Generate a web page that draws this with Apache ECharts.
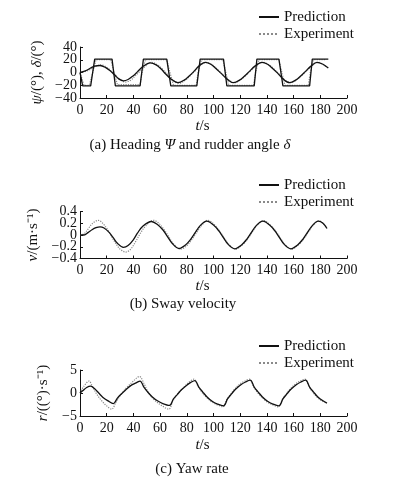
<!DOCTYPE html>
<html>
<head>
<meta charset="utf-8">
<script src="https://cdn.jsdelivr.net/npm/echarts@6/dist/echarts.min.js"></script>
<style>
  html, body { margin: 0; padding: 0; background: #fff; }
  #chart { width: 398px; height: 483px; }
</style>
</head>
<body>
<div id="chart"></div>
<script>
// [t (s), value] pairs
const headingPred = [[0,0],[4,2.5],[8,7],[11,10],[15,11],[19,8],[23,2],[26,-4],[29,-10],[32.5,-13],[36,-11],[40,-5],[43,1],[47,9],[52.5,15],[57,12],[61,5],[64,-2],[68,-10],[73.3,-16],[78,-12],[82,-5],[85,1],[89,10],[93.8,16],[98,13],[102,6],[105.5,-1],[110,-10],[115,-16],[119.5,-12],[123.5,-5],[126.5,1],[131,10],[136.3,16],[140.5,13],[144.5,6],[148,-1],[152,-10],[157,-16],[161.5,-12],[165.5,-5],[168.5,1],[173,10],[177.5,16],[182,13],[186,7]];
const headingExp = [[0,0],[4,1.5],[8,5],[12,10],[16,12],[20,8],[24,1],[27,-5],[30,-11],[34,-15],[38,-12],[42,-4],[45,2],[49,10],[53.5,16],[58,12],[62,5],[65,-2],[69,-11],[74,-17],[79,-12],[83,-4],[86,2],[90,11],[94.5,16],[99,12],[103,5],[106.5,-2],[111,-11],[116,-16],[120.5,-11],[124.5,-4],[127.5,2],[132,11],[137,16],[141.5,12],[145.5,5],[149,-2],[153,-11],[158,-16],[162.5,-11],[166.5,-4],[169.5,2],[174,11],[178.5,16],[182.5,12],[185,8]];
const rudderPred = [[0,0],[2,-21],[8,-21],[11,21],[24,21],[26.5,-21],[45,-21],[47.5,21],[65,21],[68,-21],[87.5,-21],[90,21],[107.5,21],[110,-21],[130.5,-21],[132.5,21],[149,21],[152,-21],[172,-21],[174,21],[186,21]];
const rudderExp = [[0,0],[1,-3],[3,-20],[7,-20],[8.5,-8],[12,20],[23,20],[25,5],[28,-19],[45,-19],[46.5,0],[49,20],[65,20],[67,3],[70,-20],[87,-20],[88.5,0],[91,20],[107,20],[109,2],[111.5,-20],[130,-20],[131.5,0],[134,20],[149,20],[151,2],[153.5,-20],[171,-20],[172.5,0],[175,20],[184,20]];

const swayPred = [[0,0],[3,0],[6,0.04],[9,0.09],[12,0.125],[15,0.14],[18,0.12],[22,0.04],[25,-0.05],[28,-0.14],[32.5,-0.21],[36,-0.18],[40,-0.08],[43,0.03],[47,0.15],[53.5,0.23],[58,0.18],[62,0.09],[65,-0.01],[69,-0.14],[74.2,-0.23],[79,-0.17],[83,-0.07],[86,0.03],[90,0.16],[95,0.235],[100,0.17],[104,0.07],[107,-0.03],[111,-0.16],[116,-0.235],[121,-0.17],[125,-0.07],[128,0.03],[132,0.16],[137,0.235],[142,0.17],[146,0.07],[149,-0.03],[153,-0.16],[158,-0.235],[163,-0.17],[167,-0.07],[170,0.03],[174,0.16],[178.5,0.235],[182,0.2],[185,0.11]];
const swayExp = [[0,0],[3,0.02],[6,0.1],[9,0.19],[13.7,0.25],[17,0.2],[21,0.08],[24,-0.04],[27,-0.15],[30,-0.24],[34.3,-0.29],[38,-0.24],[42,-0.1],[45,0.02],[49,0.15],[55,0.25],[59.5,0.19],[63,0.09],[66,-0.01],[70,-0.15],[75.5,-0.24],[80,-0.18],[84,-0.07],[87,0.03],[91,0.16],[95.7,0.25],[100.5,0.18],[104.5,0.07],[107.5,-0.03],[111.5,-0.16],[116.5,-0.24],[121.5,-0.17],[125.5,-0.07],[128.5,0.03],[132.5,0.16],[137.5,0.245],[142.5,0.17],[146.5,0.07],[149.5,-0.03],[153.5,-0.16],[158.5,-0.24],[163.5,-0.17],[167.5,-0.07],[170.5,0.03],[174.5,0.16],[179,0.24],[182.5,0.19],[185,0.12]];

const yawPred = [[0,0],[2,0.5],[5,1.2],[8,1.5],[11,0.9],[14,0],[17,-0.9],[21,-1.7],[25,-2.3],[28,-1.1],[31,-0.2],[34,0.6],[38,1.6],[42,2.2],[45,2.6],[48,1.2],[51,0.1],[54,-0.8],[58,-1.7],[62,-2.3],[67,-2.7],[70,-1.3],[73,-0.3],[76,0.7],[80,1.7],[83,2.3],[86,2.7],[89,1.3],[92,0.2],[95,-0.8],[99,-1.8],[103,-2.4],[107.5,-2.8],[110.5,-1.3],[113.5,-0.2],[116.5,0.8],[120.5,1.8],[124,2.4],[127.5,2.8],[130.5,1.3],[133.5,0.2],[136.5,-0.8],[140.5,-1.8],[144.5,-2.4],[149,-2.8],[152,-1.3],[155,-0.2],[158,0.8],[162,1.8],[165.5,2.4],[169,2.8],[172,1.3],[175,0.2],[178,-0.8],[182,-1.7],[185,-2.2]];
const yawExp = [[0,0],[3,1.5],[6.8,2.6],[9,1.6],[12,0],[16,-1.6],[20,-2.8],[23.7,-3.5],[27,-2],[31,-0.2],[35,1.2],[40,2.6],[44.5,3.6],[48,2],[51,0.2],[55,-1.3],[60,-2.5],[66.5,-3.5],[69.5,-1.8],[73,-0.2],[77,1],[81,2.2],[85.5,3],[88.5,1.4],[91.5,0.1],[95,-1],[99,-2],[103,-2.6],[107,-3],[110,-1.4],[113,-0.2],[116,0.9],[120,2],[123.5,2.6],[127,3],[130,1.4],[133,0.1],[136.5,-1],[140.5,-2],[144.5,-2.6],[148.5,-3],[151.5,-1.4],[154.5,-0.2],[157.5,0.9],[161.5,2],[165,2.6],[168.5,3],[171.5,1.4],[174.5,0.1],[178,-1],[181.5,-1.8],[184,-2.1]];

// tick values
const tTicks = [0, 20, 40, 60, 80, 100, 120, 140, 160, 180, 200];
const headingTicks = [-40, -20, 0, 20, 40];
const swayTicks = [-0.4, -0.2, 0, 0.2, 0.4];
const yawTicks = [-5, 0, 5];

const legendNames = ['Prediction', 'Experiment'];

const FONT = '"Liberation Serif", "Times New Roman", serif';
const INK = '#111';
const GRAY = '#8a8a8a';

const chart = echarts.init(document.getElementById('chart'));

const rich = {
  i: { fontFamily: FONT, fontSize: 15, fontStyle: 'italic', color: INK },
  n: { fontFamily: FONT, fontSize: 15, color: INK }
};

function minusFmt(v) {
  return String(+(+v).toFixed(2)).replace('-', '\u2212');
}

const even = (a) => a.filter((_, i) => i % 2 === 0);
const odd = (a) => a.filter((_, i) => i % 2 === 1);

function xAxis(grid, gap) {
  return {
    gridIndex: grid,
    type: 'value',
    min: tTicks[0],
    max: tTicks[tTicks.length - 1],
    interval: 20,
    name: '{i|t}{n|/s}',
    nameLocation: 'middle',
    nameGap: gap,
    nameTextStyle: { rich: rich, padding: [0, 22, 0, 0] },
    axisLine: { onZero: false, lineStyle: { color: INK, width: 1 } },
    axisTick: { inside: true, length: 3, customValues: tTicks, lineStyle: { color: INK } },
    axisLabel: { color: INK, fontFamily: FONT, fontSize: 14, margin: 5,
      customValues: tTicks, showMinLabel: true, showMaxLabel: true, hideOverlap: false },
    splitLine: { show: false }
  };
}

function yAxis(grid, ticks, name, gap) {
  return {
    gridIndex: grid,
    type: 'value',
    min: ticks[0],
    max: ticks[ticks.length - 1],
    name: name,
    nameLocation: 'middle',
    nameGap: gap,
    nameTextStyle: { rich: rich },
    axisLine: { show: true, onZero: false, lineStyle: { color: INK, width: 1 } },
    axisTick: { show: true, inside: true, length: 3, customValues: ticks, lineStyle: { color: INK } },
    axisLabel: { color: INK, fontFamily: FONT, fontSize: 14, margin: 3,
      customValues: even(ticks), formatter: minusFmt,
      showMinLabel: true, showMaxLabel: true, hideOverlap: false },
    splitLine: { show: false }
  };
}

// second label layer so that neighbouring labels are not dropped
function yAxisOdd(grid, ticks) {
  return {
    gridIndex: grid,
    type: 'value',
    position: 'left',
    offset: 0,
    min: ticks[0],
    max: ticks[ticks.length - 1],
    axisLine: { show: false, onZero: false },
    axisTick: { show: false },
    axisLabel: { color: INK, fontFamily: FONT, fontSize: 14, margin: 3,
      customValues: odd(ticks), formatter: minusFmt, hideOverlap: false },
    splitLine: { show: false }
  };
}

function legend(top) {
  return {
    data: legendNames,
    orient: 'vertical',
    left: 258,
    top: top,
    padding: 0,
    itemGap: 1,
    itemWidth: 20,
    itemHeight: 14,
    selectedMode: false,
    itemStyle: { opacity: 0 },
    textStyle: { fontFamily: FONT, fontSize: 15, color: INK, lineHeight: 16 }
  };
}

function line(name, data, idx, isPred) {
  return {
    name: name,
    type: 'line',
    xAxisIndex: idx,
    yAxisIndex: idx,
    data: data,
    symbol: 'none',
    smooth: 0.35,
    z: isPred ? 3 : 2,
    lineStyle: isPred
      ? { color: INK, width: 1.3, type: 'solid' }
      : { color: GRAY, width: 1.2, type: 'dotted' },
    itemStyle: { color: isPred ? INK : GRAY }
  };
}

function caption(text, cx, top) {
  return {
    text: text,
    left: cx,
    top: top,
    padding: 0,
    textAlign: 'center',
    textStyle: {
      fontFamily: FONT, fontSize: 15, fontWeight: 'normal', color: INK,
      rich: rich
    }
  };
}

const option = {
  animation: false,
  backgroundColor: '#fff',
  title: [
    caption('{n|(a) Heading }{i|Ψ}{n| and rudder angle }{i|δ}', 190, 138),
    caption('{n|(b) Sway velocity}', 183, 297),
    caption('{n|(c) Yaw rate}', 192, 462)
  ],
  legend: [legend(9), legend(177), legend(338)],
  grid: [
    { left: 80, width: 267, top: 47, height: 51 },
    { left: 80, width: 267, top: 211.5, height: 47 },
    { left: 80, width: 267, top: 370, height: 46 }
  ],
  xAxis: [xAxis(0, 21), xAxis(1, 20), xAxis(2, 22)],
  yAxis: [
    yAxis(0, headingTicks, '{i|ψ}{n|/(°), }{i|δ}{n|/(°)}', 29),
    yAxis(1, swayTicks, '{i|v}{n|/(m·s⁻¹)}', 34),
    yAxis(2, yawTicks, '{i|r}{n|/((°)·s⁻¹)}', 29),
    yAxisOdd(0, headingTicks),
    yAxisOdd(1, swayTicks),
    yAxisOdd(2, yawTicks)
  ],
  series: [
    Object.assign(line('Experiment', rudderExp, 0, false), { smooth: false }),
    Object.assign(line('Prediction', rudderPred, 0, true), { smooth: false }),
    line('Experiment', headingExp, 0, false),
    line('Prediction', headingPred, 0, true),
    line('Experiment', swayExp, 1, false),
    line('Prediction', swayPred, 1, true),
    line('Experiment', yawExp, 2, false),
    line('Prediction', yawPred, 2, true)
  ]
};

chart.setOption(option);
</script>
</body>
</html>
